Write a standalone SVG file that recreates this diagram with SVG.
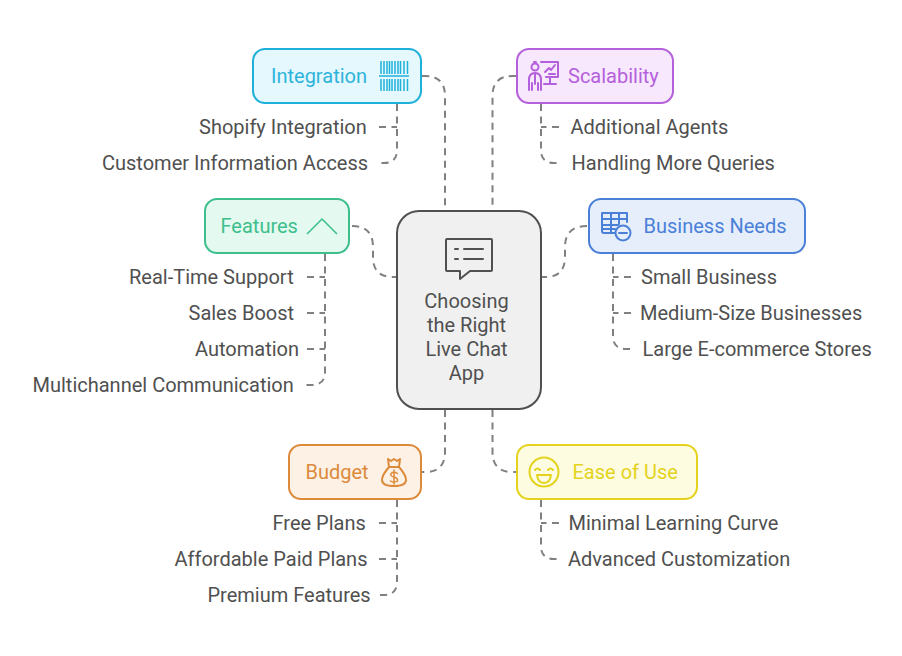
<svg xmlns="http://www.w3.org/2000/svg" width="902" height="656" viewBox="0 0 902 656">
<style>
text{font-family:Roboto,"Liberation Sans",sans-serif;font-size:20px}
.l{fill:#505050}
.c{fill:#505050;text-anchor:middle}
.box{stroke-width:2}
.ln{fill:none;stroke:#808080;stroke-width:2;stroke-dasharray:7 5.500}
.ic{fill:none;stroke-width:2;stroke-linecap:round;stroke-linejoin:round}
</style>
<rect width="902" height="656" fill="#fff"/>
<g id="connectors">
<path class="ln" d="M422 76H425Q445 76 445 96V210"/>
<path class="ln" d="M516 76H512.500Q492.500 76 492.500 96V210"/>
<path class="ln" d="M352 226Q373 226 373 247V257Q373 277 393 277H397"/>
<path class="ln" d="M587 226Q565 226 565 247V257Q565 277 545 277H541"/>
<path class="ln" d="M445 410V452Q445 472 425 472H422"/>
<path class="ln" d="M492.500 410V452Q492.500 472 512.500 472H516"/>
<path class="ln" d="M397 104V150Q397 163 384 163H378"/>
<path class="ln" d="M379 127H397"/>
<path class="ln" d="M541 104V150Q541 163 554 163H561"/>
<path class="ln" d="M559 127H541"/>
<path class="ln" d="M325 254V372Q325 385 312 385H305"/>
<path class="ln" d="M307 277H325"/>
<path class="ln" d="M307 313H325"/>
<path class="ln" d="M307 349H325"/>
<path class="ln" d="M613 254V336Q613 349 626 349H633"/>
<path class="ln" d="M631 277H613"/>
<path class="ln" d="M631 313H613"/>
<path class="ln" d="M397 500V582Q397 595 384 595H378"/>
<path class="ln" d="M379 523H397"/>
<path class="ln" d="M379 559H397"/>
<path class="ln" d="M541 500V546Q541 559 554 559H560"/>
<path class="ln" d="M559 523H541"/>
</g>
<g id="center">
<rect x="397" y="211" width="144" height="198" rx="22" fill="#f0f0f0" stroke="#505050" stroke-width="2"/>
<g class="ic" stroke="#505050"><path d="M447 239H491Q492 239 492 240V270Q492 271 491 271H470L460 279V271H447Q446 271 446 270V240Q446 239 447 239Z"/><path d="M455 249H458M464 249H483M455 259H458M464 259H483"/></g>
<text class="c" x="466.500" y="308">Choosing</text>
<text class="c" x="466.500" y="332">the Right</text>
<text class="c" x="466.500" y="356">Live Chat</text>
<text class="c" x="466.500" y="380">App</text>
</g>
<g id="integration">
<rect class="box" x="253" y="49" width="168" height="54" rx="12" fill="#e4f8fd" stroke="#1fb0da"/>
<text x="271" y="83" fill="#2eb4dc">Integration</text>
<path d="M381 61V74M384 61V74M387 61V74M389.500 61V74M392 61V74M395 61V74M398 61V74M400.500 61V74M404 61V74M407.500 61V74M381 79V91M384 79V91M387 79V91M389.500 79V91M392 79V91M395 79V91M398 79V91M400.500 79V91M404 79V91M407.500 79V91" stroke="#1fb0da" stroke-width="1.500" fill="none"/>
<path d="M379 76H409" stroke="#1fb0da" stroke-width="1.500"/>
<text class="l" x="199" y="134">Shopify Integration</text>
<text class="l" x="102" y="170">Customer Information Access</text>
</g>
<g id="scalability">
<rect class="box" x="517" y="49" width="156" height="54" rx="12" fill="#f8e8fd" stroke="#b45fdc"/>
<g class="ic" stroke="#b45fdc" stroke-width="1.500"><circle cx="535" cy="67" r="3.500"/><path d="M541 62H558V77H546M534 62H536M550 77V84M544 84H556M529 90V80Q529 73 535 73Q541 73 541 80V90M535 73V84M532 90V83M538 90V83M545 72L549 68L551 70L555 65M549 74H555"/></g>
<text x="568" y="83" fill="#b45fdc">Scalability</text>
<text class="l" x="570.500" y="134">Additional Agents</text>
<text class="l" x="571.500" y="170">Handling More Queries</text>
</g>
<g id="features">
<rect class="box" x="205" y="199" width="144" height="54" rx="12" fill="#e4f9f0" stroke="#3dbf8c"/>
<text x="220.500" y="233" fill="#3dbf8c">Features</text>
<path d="M307 234L322 219L337 234" fill="none" stroke="#3dbf8c" stroke-width="1.500"/>
<text class="l" x="129" y="284">Real-Time Support</text>
<text class="l" x="188.500" y="320">Sales Boost</text>
<text class="l" x="195" y="356">Automation</text>
<text class="l" x="32.500" y="392">Multichannel Communication</text>
</g>
<g id="business-needs">
<rect class="box" x="589" y="199" width="216" height="54" rx="12" fill="#e6eefb" stroke="#4a80d8"/>
<g class="ic" stroke="#4a80d8"><path d="M615 233H604Q602 233 602 231V213H627V222M602 219H627M602 225H618M602 229H615M611 213V233M619 213V224"/><circle cx="623" cy="233" r="7.500" fill="#e6eefb"/><path d="M619 233H627"/></g>
<text x="643.500" y="233" fill="#4a80d8">Business Needs</text>
<text class="l" x="641" y="284">Small Business</text>
<text class="l" x="640" y="320">Medium-Size Businesses</text>
<text class="l" x="642.500" y="356">Large E-commerce Stores</text>
</g>
<g id="budget">
<rect class="box" x="289" y="445" width="132" height="54" rx="12" fill="#fdf1e6" stroke="#dc8a3a"/>
<text x="305.500" y="479" fill="#dc8a3a">Budget</text>
<g class="ic" stroke="#dc8a3a"><path d="M389 467L388 459L391 461L394 459L397 461L400 459L399 467ZM389 467Q382 475 382 480Q382 486 394 486H394Q406 486 406 480Q406 475 399 467"/><path d="M397.500 473.500Q394 471 391 473.500Q390 476 394 477Q398 478 397.500 481Q394 483.500 390.500 481M394 470V484" stroke-width="1.500"/></g>
<text class="l" x="272.500" y="530">Free Plans</text>
<text class="l" x="174.500" y="566">Affordable Paid Plans</text>
<text class="l" x="207.500" y="602">Premium Features</text>
</g>
<g id="ease-of-use">
<rect class="box" x="517" y="445" width="180" height="54" rx="12" fill="#fdfbe0" stroke="#e4d31c"/>
<g class="ic" stroke="#e4d31c"><circle cx="544" cy="472" r="14.500"/><path d="M535 470Q537.500 467 540 470M548 470Q550.500 467 553 470M537 475H551Q550 483 544 483Q538 483 537 475Z"/></g>
<text x="572.500" y="479" fill="#e4d31c">Ease of Use</text>
<text class="l" x="568.500" y="530">Minimal Learning Curve</text>
<text class="l" x="568" y="566">Advanced Customization</text>
</g>
</svg>
